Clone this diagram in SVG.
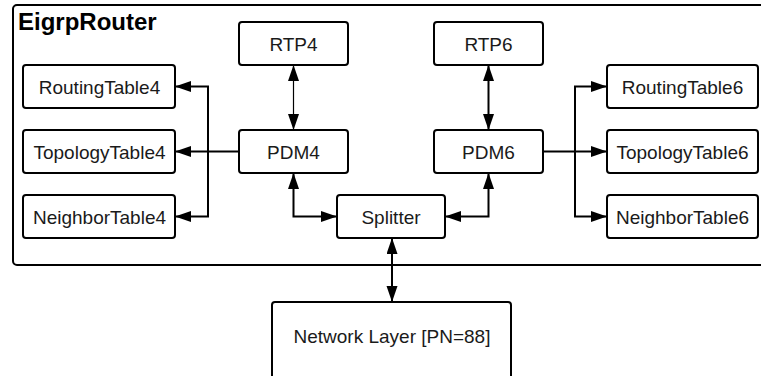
<svg xmlns="http://www.w3.org/2000/svg" width="761" height="376" viewBox="0 0 761 376">
  <style>
    .box { fill: #ffffff; stroke: #000000; stroke-width: 2; }
    .lbl { font-family: "Liberation Sans", Arial, sans-serif; font-size: 19px; fill: #1a1a1a; text-anchor: middle; }
    .title { font-family: "Liberation Sans", Arial, sans-serif; font-size: 24px; font-weight: bold; fill: #000000; }
    .wire { fill: none; stroke: #000000; stroke-width: 2; }
    .thin { stroke-width: 1.2; }
  </style>
  <defs>
    <marker id="arrow" markerUnits="userSpaceOnUse" markerWidth="17" markerHeight="12" refX="16" refY="5.5" orient="auto-start-reverse">
      <path d="M0,0 L16,5.5 L0,11 z" fill="#000000"/>
    </marker>
  </defs>

  <rect width="761" height="376" fill="#ffffff"/>

  <!-- container frame -->
  <g id="EigrpRouter">
    <rect x="13" y="5" width="760" height="260" rx="4" class="box"/>
    <text x="18" y="30" class="title">EigrpRouter</text>
  </g>

  <g id="RoutingTable4">
    <rect x="23" y="65" width="152" height="43" rx="3" class="box"/>
    <text x="99.5" y="93.5" class="lbl">RoutingTable4</text>
  </g>
  <g id="TopologyTable4">
    <rect x="23" y="130" width="152" height="43" rx="3" class="box"/>
    <text x="99.5" y="158.5" class="lbl">TopologyTable4</text>
  </g>
  <g id="NeighborTable4">
    <rect x="23" y="195" width="152" height="43" rx="3" class="box"/>
    <text x="99.5" y="223.5" class="lbl">NeighborTable4</text>
  </g>

  <g id="RTP4">
    <rect x="239" y="22" width="109" height="43" rx="3" class="box"/>
    <text x="293.5" y="50.5" class="lbl">RTP4</text>
  </g>
  <g id="PDM4">
    <rect x="239" y="130" width="109" height="43" rx="3" class="box"/>
    <text x="293.5" y="158.5" class="lbl">PDM4</text>
  </g>

  <g id="RTP6">
    <rect x="434" y="22" width="109" height="43" rx="3" class="box"/>
    <text x="488.5" y="50.5" class="lbl">RTP6</text>
  </g>
  <g id="PDM6">
    <rect x="434" y="130" width="109" height="43" rx="3" class="box"/>
    <text x="488.5" y="158.5" class="lbl">PDM6</text>
  </g>

  <g id="Splitter">
    <rect x="337" y="195" width="108" height="43" rx="3" class="box"/>
    <text x="391" y="223.5" class="lbl">Splitter</text>
  </g>

  <g id="RoutingTable6">
    <rect x="607" y="65" width="151" height="43" rx="3" class="box"/>
    <text x="682.5" y="93.5" class="lbl">RoutingTable6</text>
  </g>
  <g id="TopologyTable6">
    <rect x="607" y="130" width="151" height="43" rx="3" class="box"/>
    <text x="682.5" y="158.5" class="lbl">TopologyTable6</text>
  </g>
  <g id="NeighborTable6">
    <rect x="607" y="195" width="151" height="43" rx="3" class="box"/>
    <text x="682.5" y="223.5" class="lbl">NeighborTable6</text>
  </g>

  <g id="NetworkLayer">
    <rect x="272" y="302" width="239" height="90" rx="3" class="box"/>
    <text x="392" y="343" class="lbl">Network Layer [PN=88]</text>
  </g>

  <g id="connectors">
    <!-- PDM4 fan-out to the v4 tables -->
    <path d="M239,151.5 H175" class="wire" marker-end="url(#arrow)"/>
    <path d="M208,151.5 V86.5 H175" class="wire" marker-end="url(#arrow)"/>
    <path d="M208,151.5 V216.5 H175" class="wire" marker-end="url(#arrow)"/>

    <!-- PDM6 fan-out to the v6 tables -->
    <path d="M543,151.5 H607" class="wire" marker-end="url(#arrow)"/>
    <path d="M575,151.5 V86.5 H607" class="wire" marker-end="url(#arrow)"/>
    <path d="M575,151.5 V216.5 H607" class="wire" marker-end="url(#arrow)"/>

    <!-- RTP links -->
    <path d="M293.5,65 V130" class="wire thin" marker-start="url(#arrow)" marker-end="url(#arrow)"/>
    <path d="M488.5,65 V130" class="wire" marker-start="url(#arrow)" marker-end="url(#arrow)"/>

    <!-- PDMs to splitter -->
    <path d="M293.5,173 V216.5 H337" class="wire" marker-start="url(#arrow)" marker-end="url(#arrow)"/>
    <path d="M488.5,173 V216.5 H445" class="wire" marker-start="url(#arrow)" marker-end="url(#arrow)"/>

    <!-- splitter to network layer -->
    <path d="M392,238 V302" class="wire" marker-start="url(#arrow)" marker-end="url(#arrow)"/>
  </g>
</svg>
